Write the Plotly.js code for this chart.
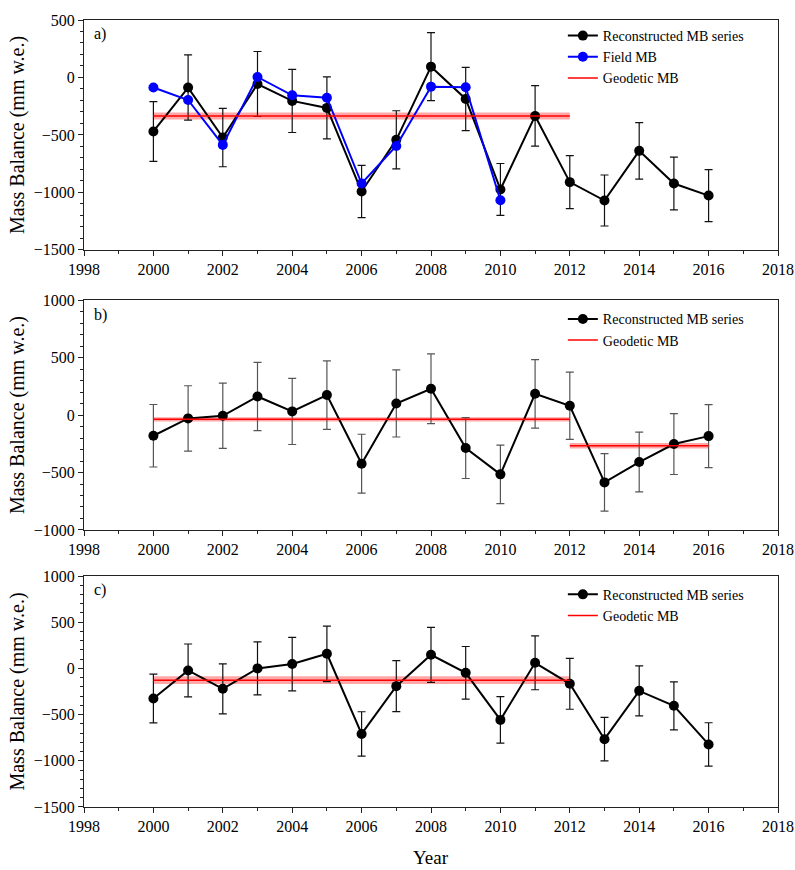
<!DOCTYPE html>
<html>
<head>
<meta charset="utf-8">
<script src="https://cdn.plot.ly/plotly-3.0.1.min.js"></script>
<style>html,body{margin:0;padding:0;background:#fff;}#chart{width:795px;height:870px;}</style>
</head>
<body>
<div id="chart"></div>
<script>
// ---- data ----
const years = [2000, 2001, 2002, 2003, 2004, 2005, 2006, 2007, 2008, 2009, 2010, 2011, 2012, 2013, 2014, 2015, 2016];

// panel a
const recA    = [-470, -88, -523, -57, -204, -265, -993, -543, 94, -187, -975, -335, -911, -1071, -639, -923, -1028];
const recAErr = [260, 284, 254, 283, 275, 270, 227, 253, 296, 275, 226, 263, 231, 222, 246, 230, 226];
const fieldYears = [2000, 2001, 2002, 2003, 2004, 2005, 2006, 2007, 2008, 2009, 2010];
const fieldA  = [-88, -196, -587, 4, -155, -176, -923, -596, -80, -85, -1068];
const geoAYears = [2000, 2012];
const geoA    = [-335, -335];
const geoAErr = [30, 30];

// panel b
const recB    = [-180, -29, -6, 162, 32, 174, -423, 101, 229, -287, -516, 185, 81, -586, -409, -252, -183];
const recBErr = [272, 284, 284, 297, 288, 298, 256, 292, 304, 265, 255, 298, 292, 250, 260, 265, 274];
const geoB1Years = [2000, 2012];
const geoB1   = [-37, -37];
const geoB1Err = [18, 18];
const geoB2Years = [2012, 2016];
const geoB2   = [-267, -267];
const geoB2Err = [24, 24];

// panel c
const recC    = [-325, -22, -221, 0, 47, 158, -709, -192, 147, -48, -557, 61, -167, -766, -243, -405, -823];
const recCErr = [264, 286, 271, 287, 290, 300, 240, 276, 298, 285, 251, 292, 275, 235, 270, 260, 235];
const geoCYears = [2000, 2012];
const geoC    = [-127, -127];
const geoCErr = [42, 42];

const xTickVals = [1998, 2000, 2002, 2004, 2006, 2008, 2010, 2012, 2014, 2016, 2018];
const labels = ['Reconstructed MB series', 'Field MB', 'Geodetic MB'];
const panelLabels = ['a)', 'b)', 'c)'];
// ---- end data ----

const FONT = 'Liberation Serif';

function band(xs, vals, errs, xa, ya) {
  const lo = vals.map((v, i) => v - errs[i]);
  const hi = vals.map((v, i) => v + errs[i]);
  return {
    x: xs.concat(xs.slice().reverse()),
    y: lo.concat(hi.slice().reverse()),
    xaxis: xa, yaxis: ya,
    type: 'scatter', mode: 'lines', fill: 'toself',
    fillcolor: 'rgba(255,80,80,0.5)', line: {width: 0},
    showlegend: false, hoverinfo: 'skip'
  };
}
function geoLine(xs, vals, xa, ya, leg, show) {
  return {
    x: xs, y: vals, xaxis: xa, yaxis: ya, type: 'scatter', mode: 'lines',
    line: {color: '#ff0000', width: 1.5}, name: labels[2], legend: leg, showlegend: show
  };
}
function recTrace(vals, errs, xa, ya, leg, errColor) {
  return {
    x: years, y: vals, xaxis: xa, yaxis: ya, type: 'scatter', mode: 'lines+markers',
    line: {color: '#000', width: 2}, marker: {color: '#000', size: 10},
    error_y: {type: 'data', array: errs, visible: true, color: errColor, thickness: 1.2, width: 4},
    name: labels[0], legend: leg
  };
}

const traces = [
  band(geoAYears, geoA, geoAErr, 'x', 'y'),
  recTrace(recA, recAErr, 'x', 'y', 'legend', '#111'),
  {x: fieldYears, y: fieldA, xaxis: 'x', yaxis: 'y', type: 'scatter', mode: 'lines+markers',
   line: {color: '#0000ff', width: 2}, marker: {color: '#0000ff', size: 10}, name: labels[1], legend: 'legend'},
  geoLine(geoAYears, geoA, 'x', 'y', 'legend', true),

  band(geoB1Years, geoB1, geoB1Err, 'x2', 'y2'),
  band(geoB2Years, geoB2, geoB2Err, 'x2', 'y2'),
  recTrace(recB, recBErr, 'x2', 'y2', 'legend2', '#555'),
  geoLine(geoB1Years, geoB1, 'x2', 'y2', 'legend2', true),
  geoLine(geoB2Years, geoB2, 'x2', 'y2', 'legend2', false),

  band(geoCYears, geoC, geoCErr, 'x3', 'y3'),
  recTrace(recC, recCErr, 'x3', 'y3', 'legend3', '#111'),
  geoLine(geoCYears, geoC, 'x3', 'y3', 'legend3', true)
];

function xax(anchor) {
  return {
    anchor: anchor, range: [1998, 2018], tickmode: 'array', tickvals: xTickVals,
    ticks: 'outside', ticklen: 5, tickcolor: '#222', showline: true, linecolor: '#222', linewidth: 1,
    mirror: true, showgrid: false, zeroline: false,
    minor: {dtick: 1, tick0: 1998, ticks: 'outside', ticklen: 3, tickcolor: '#222', showgrid: false},
    tickfont: {family: FONT, size: 16, color: '#000'}
  };
}
function yax(anchor, range, domain) {
  return {
    anchor: anchor, range: range, domain: domain, dtick: 500, tick0: 0,
    ticks: 'outside', ticklen: 5, tickcolor: '#222', showline: true, linecolor: '#222', linewidth: 1,
    mirror: true, showgrid: false, zeroline: false,
    minor: {dtick: 100, ticks: 'outside', ticklen: 3, tickcolor: '#222', showgrid: false},
    tickfont: {family: FONT, size: 16, color: '#000'},
    title: {text: 'Mass Balance (mm w.e.)', font: {family: FONT, size: 20, color: '#000'}, standoff: 3}
  };
}
function legendAt(y) {
  return {
    x: 0.69, y: y, xanchor: 'left', yanchor: 'top', bgcolor: 'rgba(0,0,0,0)',
    font: {family: FONT, size: 14, color: '#000'}, tracegroupgap: 0, itemwidth: 30
  };
}

const layout = {
  width: 795, height: 870,
  margin: {l: 84, r: 17, t: 20, b: 63},
  paper_bgcolor: '#fff', plot_bgcolor: '#fff',
  font: {family: FONT, color: '#000'},
  showlegend: true,
  xaxis: xax('y'), xaxis2: xax('y2'), xaxis3: xax('y3'),
  yaxis: yax('x', [-1500, 500], [0.708, 1]),
  yaxis2: yax('x2', [-1000, 1000], [0.352, 0.644]),
  yaxis3: yax('x3', [-1500, 1000], [0, 0.2935]),
  legend: legendAt(1.0),
  legend2: legendAt(0.64),
  legend3: legendAt(0.29),
  annotations: [
    {text: panelLabels[0], xref: 'x domain', yref: 'y domain', x: 0.012, y: 0.985, xanchor: 'left', yanchor: 'top', showarrow: false, font: {family: FONT, size: 16, color: '#000'}},
    {text: panelLabels[1], xref: 'x2 domain', yref: 'y2 domain', x: 0.012, y: 0.985, xanchor: 'left', yanchor: 'top', showarrow: false, font: {family: FONT, size: 16, color: '#000'}},
    {text: panelLabels[2], xref: 'x3 domain', yref: 'y3 domain', x: 0.012, y: 0.985, xanchor: 'left', yanchor: 'top', showarrow: false, font: {family: FONT, size: 16, color: '#000'}},
    {text: 'Year', xref: 'paper', yref: 'paper', x: 0.5, y: -0.064, xanchor: 'center', yanchor: 'middle', showarrow: false, font: {family: FONT, size: 19, color: '#000'}}
  ]
};

Plotly.newPlot('chart', traces, layout, {displayModeBar: false, staticPlot: true});
</script>
</body>
</html>
